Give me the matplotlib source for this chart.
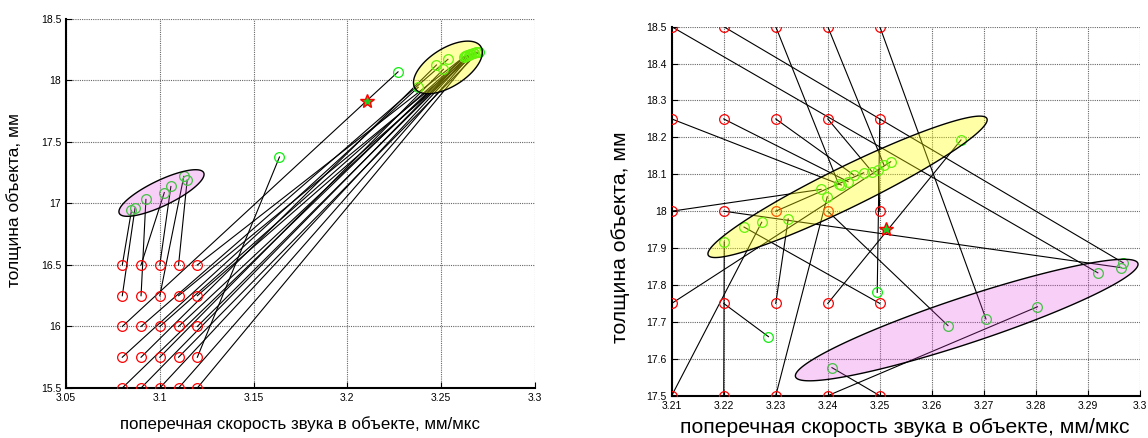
import numpy as np
import matplotlib
matplotlib.use("Agg")
import matplotlib.pyplot as plt

plt.rcParams['font.family'] = ['Liberation Sans', 'DejaVu Sans']

xlabel = "поперечная скорость звука в объекте, мм/мкс"
ylabel = "толщина объекта, мм"

# ---------------------------------------------------------------- left panel
# red circles: true positions (row by row, thickness 15.5 .. 16.5)
left_vel = [3.08, 3.09, 3.10, 3.11, 3.12]
left_thk = [15.5, 15.75, 16.0, 16.25, 16.5]
# green circles: estimate for each red circle, same order
left_est_x = [3.2625, 3.2640, 3.2655, 3.2668, 3.2685,
              3.2378, 3.2475, 3.2512, 3.2700, 3.1638,
              3.2270, 3.2536, 3.2630, 3.2650, 3.2660,
              3.0868, 3.0926, 3.1128, 3.2675, 3.2690,
              3.0849, 3.1024, 3.1059, 3.1146, 3.2620]
left_est_y = [18.195, 18.205, 18.212, 18.222, 18.228,
              17.945, 18.126, 18.091, 18.232, 17.378,
              18.070, 18.172, 18.200, 18.210, 18.215,
              16.963, 17.033, 17.220, 18.225, 18.230,
              16.943, 17.089, 17.138, 17.191, 18.190]
left_star = (3.2103, 17.836)
# cluster ellipses: centre, half-axis vector 1, half-axis vector 2
left_yellow = [(3.2536, 18.106), (0.01755, 0.1691), (0.00539, -0.1309)]
left_purple = [(3.1009, 17.085), (0.0225, 0.165), (0.00293, -0.0931)]

# --------------------------------------------------------------- right panel
right_vel = [3.21, 3.22, 3.23, 3.24, 3.25]
right_thk = [18.5, 18.25, 18.0, 17.75, 17.5]
right_est_x = [3.2919, 3.2968, 3.2421, 3.2508, 3.2704,
               3.2426, 3.2439, 3.2450, 3.2485, 3.2495,
               3.2387, 3.2964, 3.2469, 3.2631, 3.2497,
               3.2521, 3.2286, 3.2324, 3.2656, 3.2239,
               3.2273, 3.2201, 3.2399, 3.2803, 3.2408]
right_est_y = [17.833, 17.860, 18.073, 18.125, 17.708,
               18.071, 18.080, 18.098, 18.107, 17.780,
               18.059, 17.847, 18.104, 17.690, 18.112,
               18.134, 17.660, 17.979, 18.193, 17.957,
               17.970, 17.917, 18.039, 17.741, 17.576]
right_star = (3.2511, 17.951)
right_yellow = [(3.2438, 18.066), (0.02678, 0.1851), (0.001734, -0.0496)]
right_purple = [(3.2667, 17.705), (0.0329, 0.1537), (0.00139, -0.0591)]


def draw_ellipse(ax, ell, color):
    c, u, v = ell
    t = np.linspace(0, 2 * np.pi, 300)
    x = c[0] + u[0] * np.cos(t) + v[0] * np.sin(t)
    y = c[1] + u[1] * np.cos(t) + v[1] * np.sin(t)
    ax.fill(x, y, facecolor=color, edgecolor='k', lw=1.0, zorder=4)


def panel(ax, vel, thk, est_x, est_y, star, yellow, purple):
    rx, ry = np.meshgrid(vel, thk)
    rx, ry = rx.ravel(), ry.ravel()
    for x0, y0, x1, y1 in zip(rx, ry, est_x, est_y):
        ax.plot([x0, x1], [y0, y1], color='k', lw=0.8, zorder=2)
    ax.plot(rx, ry, 'o', ms=7, mfc='none', mec='red', mew=0.9, zorder=3)
    ax.plot(est_x, est_y, 'o', ms=7, mfc='none', mec='#11ee11', mew=0.9, zorder=3)
    draw_ellipse(ax, yellow, (1.0, 1.0, 0.0, 0.35))
    draw_ellipse(ax, purple, (0.88, 0.25, 0.88, 0.25))
    ax.plot(*star, '*', ms=10, mfc='#22cc22', mec='red', mew=1.0, zorder=5)

    ax.grid(True, color='0.4', ls=(0, (1, 1)), lw=0.8)
    ax.set_axisbelow(True)
    for s in ('top', 'right'):
        ax.spines[s].set_visible(False)
    for s in ('left', 'bottom'):
        ax.spines[s].set_linewidth(1.5)
    ax.tick_params(direction='in', length=4, labelsize=7.5, top=False, right=False)
    ax.xaxis.set_major_formatter(plt.FormatStrFormatter('%g'))
    ax.yaxis.set_major_formatter(plt.FormatStrFormatter('%g'))


fig = plt.figure(figsize=(11.48, 4.38), dpi=100)

ax1 = fig.add_axes([0.0575, 0.1142, 0.4085, 0.8425])
panel(ax1, left_vel, left_thk, left_est_x, left_est_y, left_star,
      left_yellow, left_purple)
ax1.set_xlim(3.05, 3.3)
ax1.set_ylim(15.5, 18.5)
ax1.set_xticks(np.arange(3.05, 3.301, 0.05))
ax1.set_yticks(np.arange(15.5, 18.51, 0.5))
ax1.set_xlabel(xlabel, fontsize=12.2)
ax1.set_ylabel(ylabel, fontsize=12.5)
ax1.xaxis.set_label_coords(0.5, -0.076)
ax1.yaxis.set_label_coords(-0.094, 0.51)

ax2 = fig.add_axes([0.5851, 0.0966, 0.4079, 0.8425])
panel(ax2, right_vel, right_thk, right_est_x, right_est_y, right_star,
      right_yellow, right_purple)
ax2.set_xlim(3.21, 3.3)
ax2.set_ylim(17.5, 18.5)
ax2.set_xticks(np.arange(3.21, 3.3001, 0.01))
ax2.set_yticks(np.arange(17.5, 18.501, 0.1))
ax2.set_xlabel(xlabel, fontsize=15.2)
ax2.set_ylabel(ylabel, fontsize=15.2)
ax2.xaxis.set_label_coords(0.497, -0.06)
ax2.yaxis.set_label_coords(-0.09, 0.43)

fig.savefig("out.png", dpi=100)
